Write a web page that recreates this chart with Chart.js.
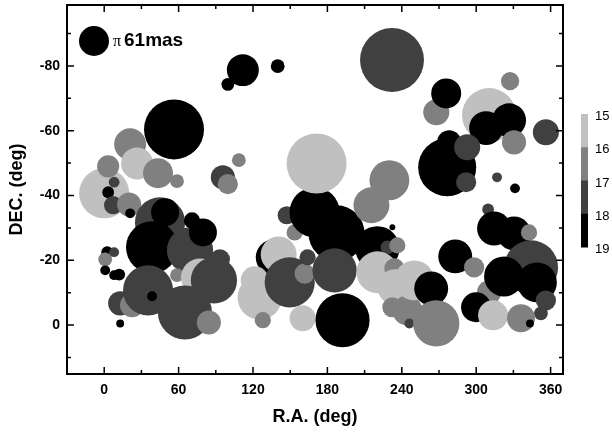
<!DOCTYPE html>
<html><head><meta charset="utf-8">
<script src="https://cdn.jsdelivr.net/npm/chart.js@4.4.1/dist/chart.umd.min.js"></script>
<style>html,body{margin:0;padding:0;background:#fff}#wrap{width:612px;height:434px;position:relative}</style>
</head><body><div id="wrap"><canvas id="c" width="612" height="434"></canvas></div>
<script>
// Right ascension (deg)
const raDeg = [99.7,111.8,139.9,232.1,56.3,20.9,26.5,43.4,58.7,0.0,3.2,8.0,3.2,95.7,99.7,108.6,
  7.2,20.1,20.9,45.0,38.6,46.6,49.1,69.2,70.8,79.6,
  2.4,8.0,0.8,0.8,8.0,12.1,12.9,22.5,35.4,38.6,58.7,77.2,88.5,93.3,65.1,84.4,12.9,
  147.2,153.6,169.7,171.3,187.4,230.0,215.5,220.3,232.4,228.4,236.4,
  136.7,140.7,121.4,125.4,127.9,149.6,161.6,164.0,160.0,185.8,192.2,220.3,234.0,234.8,232.4,244.5,246.1,250.1,263.7,267.8,
  267.8,275.8,327.3,310.4,308.0,326.5,330.5,356.2,276.6,278.2,292.7,291.9,316.8,331.3,309.6,314.4,330.5,342.6,
  283.1,298.3,310.4,344.2,322.4,349.0,356.2,352.2,299.9,313.6,336.1,343.4];
// Declination (deg)
const decDeg = [-74.3,-78.7,-79.9,-81.8,-60.4,-55.8,-49.9,-46.9,-44.4,-40.7,-49.0,-44.1,-41.0,-45.6,-43.5,-50.9,
  -37.0,-37.2,-34.5,-31.7,-24.0,-28.0,-34.8,-23.1,-32.3,-28.6,
  -22.5,-22.5,-20.3,-16.9,-15.4,-15.6,-6.7,-6.1,-10.7,-8.9,-15.4,-14.7,-13.8,-20.3,-3.9,-0.8,-0.5,
  -33.9,-28.6,-34.8,-49.9,-28.3,-44.7,-37.0,-23.7,-30.2,-24.0,-24.6,
  -20.9,-21.8,-13.8,-8.5,-1.5,-13.2,-15.9,-20.9,-2.1,-16.9,-1.5,-16.3,-17.5,-11.7,-5.5,-4.5,-0.5,-13.8,-11.3,-0.5,
  -65.7,-71.5,-75.3,-64.8,-60.8,-63.2,-56.4,-59.5,-48.7,-56.4,-54.9,-44.1,-45.6,-42.2,-35.7,-29.8,-28.3,-28.6,
  -21.2,-17.8,-10.1,-17.8,-15.0,-13.2,-7.6,-3.6,-5.5,-3.0,-2.1,-0.5];
// Parallax (mas)
const parallaxMas = [26,65,28,130,122,65,65,61,28,102,45,22,24,49,41,28,
  37,49,20,102,106,28,57,94,33,57,
  24,20,28,20,20,24,49,49,102,20,28,77,94,41,110,49,16,
  37,33,102,122,114,81,73,90,12,28,33,
  73,73,57,90,33,102,41,33,53,90,110,85,41,73,41,61,20,81,69,94,
  53,61,37,110,69,69,49,53,118,49,53,41,20,20,24,69,69,33,
  69,41,49,110,81,81,41,28,61,61,57,16];
// Magnitude
const vMag = [18.5,18.5,18.5,17.5,18.5,16.5,15.5,16.5,16.5,15.5,16.5,17.5,18.5,17.5,16.5,16.5,
  17.5,16.5,18.5,17.5,18.5,18.5,18.5,17.5,18.5,18.5,
  18.5,17.5,16.5,18.5,18.5,18.5,17.5,16.5,17.5,18.5,16.5,15.5,17.5,17.5,17.5,16.5,18.5,
  17.5,16.5,18.5,15.5,18.5,16.5,16.5,18.5,18.5,17.5,16.5,
  18.5,15.5,15.5,15.5,16.5,17.5,16.5,17.5,15.5,17.5,18.5,15.5,16.5,15.5,16.5,16.5,17.5,15.5,18.5,16.5,
  16.5,18.5,16.5,15.5,18.5,18.5,16.5,17.5,18.5,18.5,17.5,17.5,17.5,18.5,17.5,18.5,18.5,16.5,
  18.5,16.5,16.5,17.5,18.5,18.5,17.5,17.5,18.5,15.5,16.5,18.5];
const xTicks = [0,60,120,180,240,300,360];
const yTicks = [-80,-60,-40,-20,0];
const magTicks = [15,16,17,18,19];
const magColors = ['#c0c0c0','#808080','#404040','#000000'];
const legendParallax = 61;
const legendLabel = '61mas';

const PX_PER_MAS = 15/61;
function magColor(m){
  for(let i=0;i<magTicks.length-1;i++){ if(m<magTicks[i+1]) return magColors[i]; }
  return magColors[magColors.length-1];
}
const points = raDeg.map((x,i)=>({x:x, y:decDeg[i], r:parallaxMas[i]*PX_PER_MAS}));

const FONT = "'Liberation Sans', Arial, sans-serif";

const framePlugin = {
  id:'frame',
  afterDatasetsDraw(chart){
    const {ctx, chartArea:a, scales:{x,y}} = chart;
    ctx.save();
    ctx.strokeStyle='#000';
    ctx.lineWidth=1.5;
    const majLen=7, minLen=4;
    const xs = xTicks[1]-xTicks[0], ys = yTicks[1]-yTicks[0];
    const xMinor = xTicks.map(v=>v-xs/2).concat([xTicks[xTicks.length-1]+xs/2]).filter(v=>v>x.min+0.5 && v<x.max-0.5);
    const yMinor = yTicks.map(v=>v-ys/2).concat([yTicks[yTicks.length-1]+ys/2]).filter(v=>v>y.min+0.5 && v<y.max-0.5);
    ctx.beginPath();
    const xt=(v,len)=>{const p=x.getPixelForValue(v); ctx.moveTo(p,a.bottom); ctx.lineTo(p,a.bottom-len); ctx.moveTo(p,a.top); ctx.lineTo(p,a.top+len);};
    const yt=(v,len)=>{const p=y.getPixelForValue(v); ctx.moveTo(a.left,p); ctx.lineTo(a.left+len,p); ctx.moveTo(a.right,p); ctx.lineTo(a.right-len,p);};
    xTicks.forEach(v=>xt(v,majLen)); xMinor.forEach(v=>xt(v,minLen));
    yTicks.forEach(v=>yt(v,majLen)); yMinor.forEach(v=>yt(v,minLen));
    ctx.stroke();
    ctx.lineWidth=2;
    ctx.strokeRect(a.left,a.top,a.right-a.left,a.bottom-a.top);
    // size legend
    ctx.fillStyle='#000';
    ctx.beginPath();
    ctx.arc(a.left+27, a.top+36, legendParallax*PX_PER_MAS, 0, Math.PI*2);
    ctx.fill();
    ctx.textBaseline='alphabetic';
    ctx.textAlign='left';
    ctx.font="16px 'Liberation Serif', serif";
    ctx.fillText('\u03C0', a.left+46, a.top+41);
    ctx.font="bold 19px "+FONT;
    ctx.fillText(legendLabel, a.left+57, a.top+41);
    // colour bar
    const bx=581, bw=7, btop=114, bbot=247;
    const seg=(bbot-btop)/(magTicks.length-1);
    for(let i=0;i<magTicks.length-1;i++){
      ctx.fillStyle=magColors[i];
      ctx.fillRect(bx, btop+i*seg, bw, seg+0.5);
    }
    ctx.fillStyle='#000';
    ctx.font="13px "+FONT;
    ctx.textBaseline='middle';
    magTicks.forEach((m,i)=>{ ctx.fillText(String(m), 595, btop+i*seg+2.5); });
    ctx.restore();
  }
};

new Chart(document.getElementById('c'), {
  type:'bubble',
  data:{datasets:[{
    data:points,
    backgroundColor:(c)=>magColor(vMag[c.dataIndex]),
    borderWidth:0,
    hoverBorderWidth:0,
    hoverRadius:0
  }]},
  options:{
    responsive:false, animation:false, devicePixelRatio:1, events:[],
    layout:{autoPadding:false, padding:{left:0,top:5,right:49,bottom:0}},
    plugins:{legend:{display:false}, tooltip:{enabled:false}},
    scales:{
      x:{type:'linear', min:-30, max:370,
        afterBuildTicks:(s)=>{s.ticks=xTicks.map(v=>({value:v}));},
        afterFit:(s)=>{s.height=60; s.paddingLeft=0; s.paddingRight=0;},
        grid:{display:false, drawTicks:false}, border:{display:false},
        ticks:{color:'#000', font:{family:FONT, size:14, weight:'bold'}, padding:8, maxRotation:0, autoSkip:false},
        title:{display:true, text:'R.A. (deg)', color:'#000', font:{family:FONT, size:18, weight:'bold'}, padding:{top:0,bottom:6}}
      },
      y:{type:'linear', min:-98.8, max:15.1, reverse:true,
        afterBuildTicks:(s)=>{s.ticks=yTicks.map(v=>({value:v}));},
        afterFit:(s)=>{s.width=67; s.paddingTop=0; s.paddingBottom=0;},
        grid:{display:false, drawTicks:false}, border:{display:false},
        ticks:{color:'#000', font:{family:FONT, size:14, weight:'bold'}, padding:7, autoSkip:false},
        title:{display:true, text:'DEC. (deg)', color:'#000', font:{family:FONT, size:18, weight:'bold'}, padding:{top:6,bottom:0}}
      }
    }
  },
  plugins:[framePlugin]
});
</script>
</body></html>
